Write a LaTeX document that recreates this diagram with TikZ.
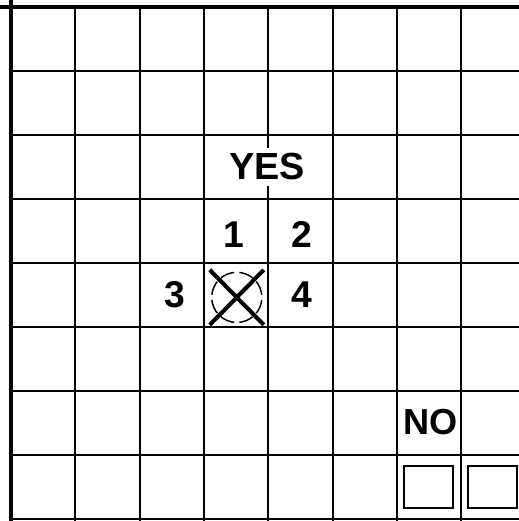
\documentclass[tikz,border=0pt]{standalone}
\usepackage{fontspec}
\setmainfont{Liberation Sans}
\usetikzlibrary{arrows.meta}

\begin{document}
\begin{tikzpicture}[x=1cm,y=-0.995cm,
  gridline/.style={line width=0.9pt,black},
  lbl/.style={font=\fontsize{16.5}{16.5}\selectfont\bfseries,inner sep=0pt},
  xmark/.style={line width=1.8pt,black},
  ring/.style={draw,circle,line width=0.65pt,minimum size=0.78cm,inner sep=0pt,
    dash pattern=on 6.4pt off 2.3pt,dash phase=7.55pt},
  smallbox/.style={draw,line width=0.9pt,minimum width=0.76cm,minimum height=0.65cm,inner sep=0pt}]
\useasboundingbox (-0.171,-0.106) rectangle (7.897,8.034);
\clip (-0.171,-0.106) rectangle (7.897,8.034);
% board
\foreach \i in {1,...,8} \draw[gridline] (\i,0) -- (\i,8.2);
\foreach \j in {1,...,8} \draw[gridline] (0,\j) -- (8.2,\j);
\draw[line width=1.8pt] (-0.2,0) -- (8.2,0);
\draw[line width=2.2pt] (0,-0.2) -- (0,8.2);
% labels
\node[lbl,font=\fontsize{16.7}{16.7}\selectfont\bfseries,fill=white,inner sep=2.4pt] (yes) at (3.98,2.5) {YES};
\node[lbl] (one) at (3.47,3.56) {1};
\node[lbl] (two) at (4.52,3.56) {2};
\node[lbl] (three) at (2.54,4.5) {3};
\node[lbl] (four) at (4.52,4.5) {4};
\node[lbl,font=\fontsize{16}{16}\selectfont\bfseries] (no) at (6.52,6.495) {NO};
% marked square
\node[ring] (mark) at (3.51,4.54) {};
\draw[xmark] (mark.center) +(-0.42,-0.43) -- +(0.42,0.43);
\draw[xmark] (mark.center) +(0.42,-0.43) -- +(-0.42,0.43);
% empty boxes
\node[smallbox] (box1) at (6.49,7.50) {};
\node[smallbox] (box2) at (7.485,7.50) {};
\end{tikzpicture}
\end{document}
